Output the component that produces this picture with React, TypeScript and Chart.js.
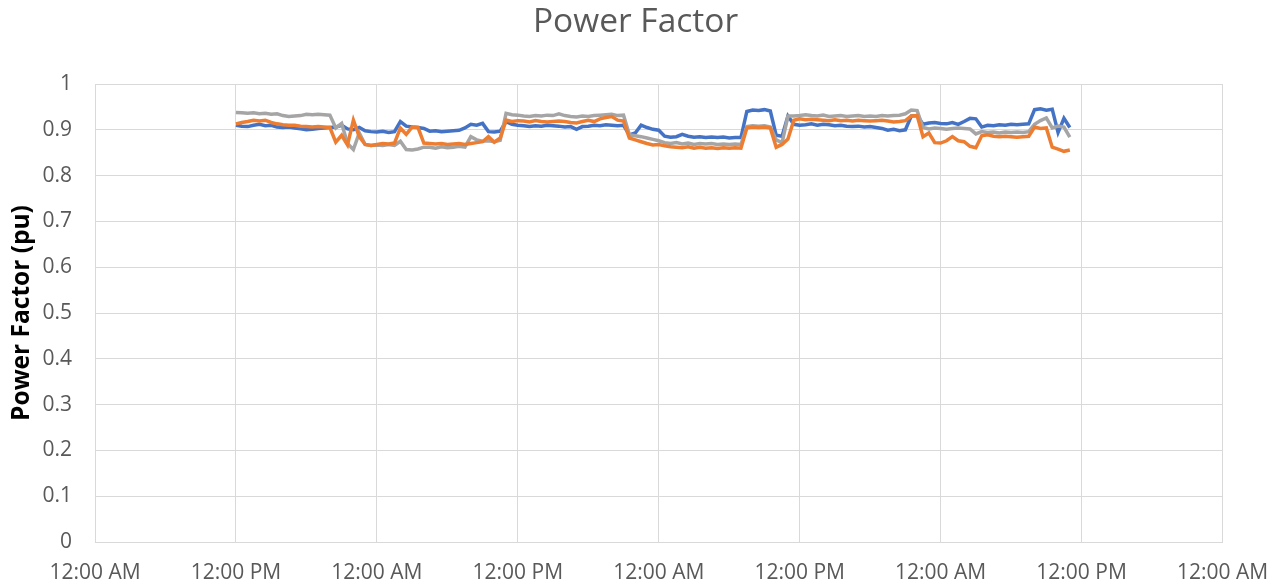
import React, { useEffect, useRef } from "react";
import { Chart, registerables } from "chart.js";

Chart.register(...registerables);

// Time in hours from the first 12:00 AM gridline
const hours = [
  12, 12.5, 13, 13.5, 14, 14.5, 15, 15.5, 16, 16.5,
  17, 17.5, 18, 18.5, 19, 19.5, 20, 20.5, 21, 21.5,
  22, 22.5, 23, 23.5, 24, 24.5, 25, 25.5, 26, 26.5,
  27, 27.5, 28, 28.5, 29, 29.5, 30, 30.5, 31, 31.5,
  32, 32.5, 33, 33.5, 34, 34.5, 35, 35.5, 36, 36.5,
  37, 37.5, 38, 38.5, 39, 39.5, 40, 40.5, 41, 41.5,
  42, 42.5, 43, 43.5, 44, 44.5, 45, 45.5, 46, 46.5,
  47, 47.5, 48, 48.5, 49, 49.5, 50, 50.5, 51, 51.5,
  52, 52.5, 53, 53.5, 54, 54.5, 55, 55.5, 56, 56.5,
  57, 57.5, 58, 58.5, 59, 59.5, 60, 60.5, 61, 61.5,
  62, 62.5, 63, 63.5, 64, 64.5, 65, 65.5, 66, 66.5,
  67, 67.5, 68, 68.5, 69, 69.5, 70, 70.5, 71, 71.5,
  72, 72.5, 73, 73.5, 74, 74.5, 75, 75.5, 76, 76.5,
  77, 77.5, 78, 78.5, 79, 79.5, 80, 80.5, 81, 81.5,
  82, 82.5, 83,
];

const seriesBlue = [
  0.910, 0.908, 0.907, 0.910, 0.912, 0.909, 0.910, 0.906, 0.905, 0.906,
  0.904, 0.902, 0.900, 0.901, 0.903, 0.904, 0.905, 0.906, 0.910, 0.902,
  0.900, 0.905, 0.898, 0.896, 0.895, 0.897, 0.894, 0.896, 0.918, 0.908,
  0.906, 0.905, 0.903, 0.897, 0.898, 0.896, 0.897, 0.898, 0.899, 0.904,
  0.912, 0.910, 0.914, 0.896, 0.895, 0.897, 0.918, 0.912, 0.910, 0.909,
  0.907, 0.909, 0.908, 0.910, 0.909, 0.908, 0.906, 0.907, 0.901, 0.907,
  0.908, 0.910, 0.909, 0.911, 0.910, 0.909, 0.910, 0.889, 0.893, 0.910,
  0.905, 0.901, 0.899, 0.886, 0.884, 0.885, 0.890, 0.886, 0.884, 0.885,
  0.883, 0.884, 0.883, 0.884, 0.882, 0.883, 0.883, 0.940, 0.943, 0.942,
  0.944, 0.941, 0.888, 0.886, 0.930, 0.912, 0.910, 0.911, 0.913, 0.910,
  0.912, 0.911, 0.909, 0.910, 0.908, 0.907, 0.908, 0.906, 0.907, 0.905,
  0.903, 0.899, 0.901, 0.898, 0.900, 0.930, 0.931, 0.912, 0.915, 0.916,
  0.914, 0.913, 0.916, 0.912, 0.918, 0.925, 0.924, 0.906, 0.910, 0.909,
  0.911, 0.910, 0.912, 0.911, 0.912, 0.913, 0.944, 0.946, 0.943, 0.945,
  0.894, 0.925, 0.905,
];

const seriesOrange = [
  0.913, 0.916, 0.918, 0.921, 0.919, 0.921, 0.916, 0.913, 0.911, 0.910,
  0.910, 0.908, 0.907, 0.906, 0.907, 0.906, 0.905, 0.873, 0.888, 0.867,
  0.921, 0.885, 0.868, 0.866, 0.868, 0.870, 0.869, 0.871, 0.904, 0.890,
  0.906, 0.905, 0.871, 0.870, 0.869, 0.870, 0.868, 0.869, 0.870, 0.868,
  0.870, 0.872, 0.874, 0.885, 0.873, 0.882, 0.921, 0.918, 0.920, 0.919,
  0.917, 0.920, 0.918, 0.917, 0.918, 0.919, 0.918, 0.916, 0.915, 0.918,
  0.921, 0.918, 0.924, 0.927, 0.929, 0.921, 0.919, 0.882, 0.878, 0.874,
  0.870, 0.867, 0.868, 0.865, 0.863, 0.862, 0.861, 0.863, 0.860, 0.862,
  0.860, 0.861, 0.859, 0.861, 0.860, 0.861, 0.860, 0.904, 0.906, 0.905,
  0.906, 0.904, 0.862, 0.868, 0.880, 0.921, 0.924, 0.922, 0.923, 0.922,
  0.921, 0.920, 0.922, 0.920, 0.921, 0.919, 0.921, 0.920, 0.919, 0.920,
  0.921, 0.919, 0.917, 0.918, 0.920, 0.930, 0.931, 0.885, 0.893, 0.872,
  0.871, 0.876, 0.885, 0.876, 0.874, 0.864, 0.861, 0.887, 0.889, 0.886,
  0.885, 0.886, 0.885, 0.884, 0.885, 0.886, 0.906, 0.903, 0.904, 0.862,
  0.858, 0.853, 0.856,
];

const seriesGray = [
  0.938, 0.937, 0.936, 0.937, 0.935, 0.936, 0.934, 0.935, 0.931, 0.929,
  0.930, 0.931, 0.934, 0.933, 0.934, 0.933, 0.932, 0.904, 0.914, 0.870,
  0.857, 0.893, 0.868, 0.866, 0.867, 0.866, 0.868, 0.866, 0.875, 0.857,
  0.856, 0.858, 0.862, 0.862, 0.860, 0.863, 0.861, 0.862, 0.864, 0.862,
  0.885, 0.878, 0.875, 0.876, 0.874, 0.877, 0.936, 0.933, 0.932, 0.930,
  0.929, 0.931, 0.930, 0.932, 0.931, 0.935, 0.931, 0.929, 0.928, 0.930,
  0.929, 0.931, 0.932, 0.933, 0.934, 0.931, 0.932, 0.889, 0.887, 0.885,
  0.882, 0.879, 0.876, 0.872, 0.870, 0.872, 0.869, 0.871, 0.868, 0.870,
  0.869, 0.870, 0.868, 0.869, 0.868, 0.869, 0.868, 0.907, 0.909, 0.908,
  0.909, 0.906, 0.878, 0.872, 0.930, 0.930, 0.931, 0.933, 0.931, 0.930,
  0.932, 0.929, 0.930, 0.931, 0.929, 0.930, 0.931, 0.929, 0.930, 0.929,
  0.931, 0.930, 0.931, 0.932, 0.935, 0.943, 0.942, 0.905, 0.902, 0.904,
  0.903, 0.901, 0.903, 0.904, 0.903, 0.902, 0.891, 0.896, 0.894, 0.895,
  0.893, 0.895, 0.894, 0.895, 0.894, 0.896, 0.912, 0.920, 0.926, 0.904,
  0.908, 0.906, 0.884,
];

const xTickLabels = [
  "12:00 AM", "12:00 PM", "12:00 AM", "12:00 PM", "12:00 AM",
  "12:00 PM", "12:00 AM", "12:00 PM", "12:00 AM",
];

const yTickLabels = ["0", "0.1", "0.2", "0.3", "0.4", "0.5", "0.6", "0.7", "0.8", "0.9", "1"];

const chartTitle = "Power Factor";
const yAxisTitle = "Power Factor (pu)";

const FONT = "'Open Sans'";
const TEXT_GRAY = "#595959";
const GRID = "#D9D9D9";

function toPoints(values: number[]) {
  return values.map((v, i) => ({ x: hours[i], y: v }));
}

// Draws the chart title, centred where the original places it
const titlePlugin = {
  id: "pfTitle",
  afterDraw(chart: any) {
    const ctx = chart.ctx;
    ctx.save();
    ctx.font = `normal 33.5px ${FONT}`;
    ctx.fillStyle = TEXT_GRAY;
    ctx.textAlign = "center";
    ctx.textBaseline = "middle";
    ctx.fillText(chartTitle, 635.5, 22);
    ctx.restore();
  },
};

export default function App() {
  const canvasRef = useRef<HTMLCanvasElement | null>(null);

  useEffect(() => {
    const canvas = canvasRef.current;
    if (!canvas) return;
    const lineStyle = { borderWidth: 3.5, pointRadius: 0, tension: 0 };
    const chart = new Chart(canvas, {
      type: "line",
      data: {
        datasets: [
          {
            label: "Orange",
            data: toPoints(seriesOrange),
            borderColor: "#ED7D31",
            backgroundColor: "#ED7D31",
            ...lineStyle,
          },
          {
            label: "Gray",
            data: toPoints(seriesGray),
            borderColor: "#A5A5A5",
            backgroundColor: "#A5A5A5",
            ...lineStyle,
          },
          {
            label: "Blue",
            data: toPoints(seriesBlue),
            borderColor: "#4472C4",
            backgroundColor: "#4472C4",
            ...lineStyle,
          },
        ],
      },
      plugins: [titlePlugin],
      options: {
        responsive: false,
        animation: false,
        layout: { padding: { left: 0, right: 59.5, top: 84, bottom: 0 } },
        plugins: {
          legend: { display: false },
          tooltip: { enabled: false },
          title: { display: false },
        },
        scales: {
          x: {
            type: "linear",
            min: 0,
            max: 96,
            afterFit: (scale: any) => {
              scale.height = 44;
              scale.paddingLeft = 0;
              scale.paddingRight = 0;
            },
            afterBuildTicks: (scale: any) => {
              scale.ticks = xTickLabels.map((_, i) => ({ value: i * 12 }));
            },
            ticks: {
              autoSkip: false,
              maxRotation: 0,
              color: TEXT_GRAY,
              font: { family: FONT, size: 21 },
              padding: 18,
              callback: (_v: any, i: number) => xTickLabels[i],
            },
            grid: { color: GRID, lineWidth: 1, drawTicks: false },
            border: { color: GRID, width: 1 },
          },
          y: {
            min: 0,
            max: 1,
            afterFit: (scale: any) => {
              scale.width = 95;
              scale.paddingTop = 0;
              scale.paddingBottom = 0;
            },
            ticks: {
              stepSize: 0.1,
              color: TEXT_GRAY,
              font: { family: FONT, size: 21 },
              padding: 23,
              callback: (_v: any, i: number) => yTickLabels[i],
            },
            grid: { color: GRID, lineWidth: 1, drawTicks: false },
            border: { color: GRID, width: 1 },
            title: {
              display: true,
              text: yAxisTitle,
              color: "#000000",
              font: { family: FONT, size: 24.5, weight: "bold" },
              padding: { top: 7.3, bottom: 0 },
            },
          },
        },
      },
    });
    return () => chart.destroy();
  }, []);

  return (
    <div style={{ position: "absolute", left: 0, top: 0, width: 1282, height: 586 }}>
      <canvas ref={canvasRef} width={1282} height={586} style={{ display: "block" }} />
    </div>
  );
}
